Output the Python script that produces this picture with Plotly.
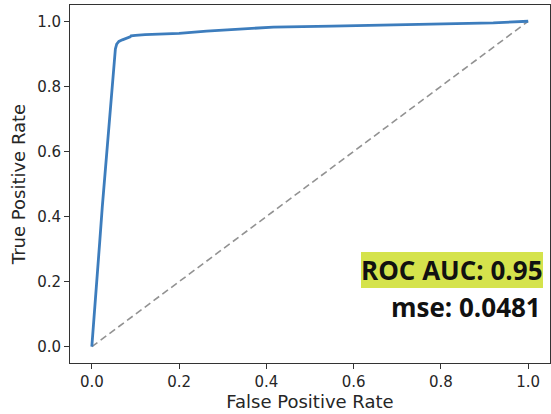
import plotly.graph_objects as go

# ROC curve points (false positive rate, true positive rate)
fpr = [0.0, 0.006, 0.012, 0.018, 0.024, 0.030, 0.036, 0.042, 0.047, 0.051,
       0.054, 0.057, 0.062, 0.070, 0.080, 0.088, 0.090, 0.100, 0.122, 0.200,
       0.263, 0.340, 0.416, 0.550, 0.683, 0.820, 0.920, 1.0]
tpr = [0.0, 0.10, 0.20, 0.32, 0.43, 0.53, 0.64, 0.74, 0.82, 0.89,
       0.915, 0.930, 0.938, 0.943, 0.947, 0.952, 0.955, 0.957, 0.959, 0.963,
       0.970, 0.976, 0.982, 0.985, 0.988, 0.992, 0.995, 1.0]

# chance diagonal
diag_x = [0.0, 1.0]
diag_y = [0.0, 1.0]

tick_vals = [0.0, 0.2, 0.4, 0.6, 0.8, 1.0]
tick_text = ["0.0", "0.2", "0.4", "0.6", "0.8", "1.0"]

roc_auc = 0.95
mse = 0.0481

fig = go.Figure()
fig.add_trace(go.Scatter(x=diag_x, y=diag_y, mode="lines",
                         line=dict(color="#929292", width=1.6, dash="7px,4px"),
                         hoverinfo="skip", showlegend=False))
fig.add_trace(go.Scatter(x=fpr, y=tpr, mode="lines",
                         line=dict(color="#3d7dbd", width=2.8),
                         showlegend=False))

axis_common = dict(
    range=[-0.05, 1.05], tickvals=tick_vals, ticktext=tick_text,
    ticks="outside", ticklen=5, tickwidth=1, tickcolor="#333333",
    showline=True, linecolor="#333333", linewidth=1, mirror=True,
    showgrid=False, zeroline=False, automargin=False,
    tickfont=dict(family="DejaVu Sans", size=15, color="#262626"),
)

fig.update_xaxes(**axis_common,
                 title=dict(text="False Positive Rate", standoff=4,
                            font=dict(family="DejaVu Sans", size=18, color="#262626")))
fig.update_yaxes(**axis_common,
                 title=dict(text="True Positive Rate", standoff=6,
                            font=dict(family="DejaVu Sans", size=18, color="#262626")))

fig.add_annotation(x=1.035, y=0.236, xref="x", yref="y",
                   text=f"<b>ROC AUC: {roc_auc:.2f}</b>", showarrow=False,
                   xanchor="right", yanchor="middle",
                   bgcolor="#d5e34c", borderpad=0, borderwidth=0,
                   font=dict(family="Open Sans", size=26, color="#111111"))
fig.add_annotation(x=1.035, y=0.123, xref="x", yref="y",
                   text=f"<b>mse: {mse:.4f}</b>", showarrow=False,
                   xanchor="right", yanchor="middle",
                   font=dict(family="Open Sans", size=26, color="#111111"))

fig.update_layout(
    width=551, height=414,
    margin=dict(l=70, r=1, t=5, b=51),
    paper_bgcolor="white", plot_bgcolor="white",
)

fig.write_html("out.html")
